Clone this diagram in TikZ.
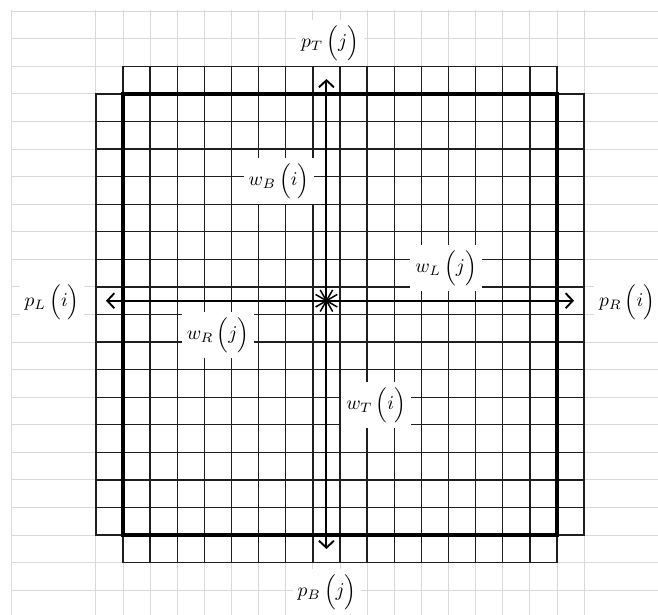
\documentclass[tikz,border=0pt]{standalone}
\usepackage{graphicx}
\usetikzlibrary{arrows.meta}
\newcommand{\biglab}[1]{\scalebox{1.95}{$#1$}}
\begin{document}
\begin{tikzpicture}[x=1pt,y=-1pt,
  lightgrid/.style={draw=black!15, line width=1pt},
  darkgrid/.style={draw=black!88, line width=1.3pt, line cap=rect},
  frame/.style={draw=black, line width=3.8pt, line join=miter},
  axis/.style={draw=black, line width=1.9pt, -{Straight Barb[length=7pt,width=15pt,line width=1.9pt]}},
  spoke/.style={draw=black, line width=1.5pt},
  lab/.style={fill=white, inner xsep=5pt, inner ysep=5pt},
]
\useasboundingbox (0,0) rectangle (658,615);
\fill[white] (0,0) rectangle (658,615);
\def\cx{27.125}\def\cy{27.5625}
% light background grid
\draw[lightgrid] (11,10) -- (11,615);
\foreach \k in {0,...,18} \draw[lightgrid] ({123+(\k-1)*\cx},10) -- ({123+(\k-1)*\cx},615);
\foreach \k in {-3,...,19} \draw[lightgrid] (11,{94+\k*\cy}) -- (658,{94+\k*\cy});
% dark grid
\foreach \k in {0,...,16} \draw[darkgrid] ({123-\cx},{94+\k*\cy}) -- ({557+\cx},{94+\k*\cy});
\foreach \k in {-1,17} \draw[darkgrid] (123,{94+\k*\cy}) -- (557,{94+\k*\cy});
\foreach \k in {0,...,16} \draw[darkgrid] ({123+\k*\cx},{94-\cy}) -- ({123+\k*\cx},{535+\cy});
\foreach \k in {-1,17} \draw[darkgrid] ({123+\k*\cx},94) -- ({123+\k*\cx},535);
% frame
\draw[frame] (123,94) rectangle (557,535);
% centre and arrow ends
\coordinate (c) at ({123+7.5*\cx},{94+7.5*\cy});
\coordinate (tT) at ({123+7.5*\cx},79);
\coordinate (tB) at ({123+7.5*\cx},549);
\coordinate (tL) at (106,{94+7.5*\cy});
\coordinate (tR) at (574,{94+7.5*\cy});
\draw[axis] (c) -- (tT);
\draw[axis] (c) -- (tB);
\draw[axis] (c) -- (tL);
\draw[axis] (c) -- (tR);
\foreach \a in {0,30,...,330} \draw[spoke] (c) -- ++(\a:12.5);
% labels
\node[lab] (pT) at (330,43) {\biglab{p_{T}\,\Bigl(j\Bigr)}};
\node[lab] (pB) at (327,592) {\biglab{p_{B}\,\Bigl(j\Bigr)}};
\node[lab] (pL) at (52,302) {\biglab{p_{L}\,\Bigl(i\Bigr)}};
\node[lab] (pR) at (627,302) {\biglab{p_{R}\,\Bigl(i\Bigr)}};
\node[lab] (wB) at (279,181) {\biglab{w_{B}\,\Bigl(i\Bigr)}};
\node[lab] (wL) at (446,268) {\biglab{w_{L}\,\Bigl(j\Bigr)}};
\node[lab] (wR) at (218,335) {\biglab{w_{R}\,\Bigl(j\Bigr)}};
\node[lab] (wT) at (376,405) {\biglab{w_{T}\,\Bigl(i\Bigr)}};
\end{tikzpicture}
\end{document}
